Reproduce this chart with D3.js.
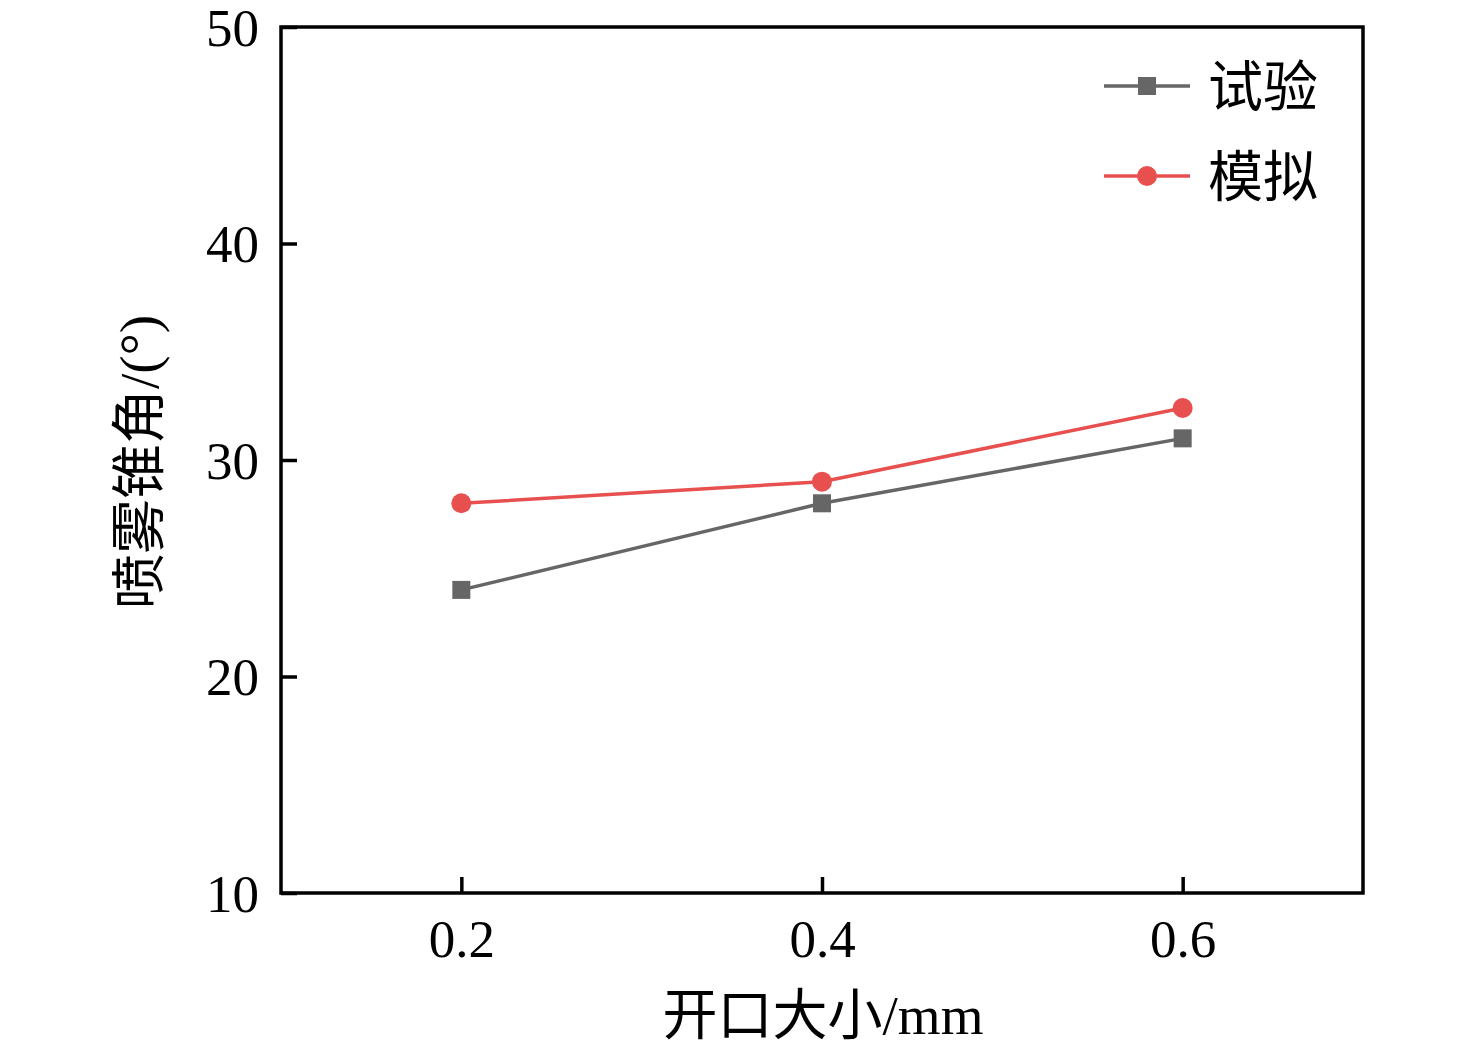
<!DOCTYPE html>
<html>
<head>
<meta charset="utf-8">
<script src="https://cdn.jsdelivr.net/npm/d3@7"></script>
<style>
  body { margin: 0; background: #fff; }
  text { font-family: "Liberation Serif", "Noto Sans CJK SC", serif; fill: #000; }
</style>
</head>
<body>
<div class="chart"></div>
<script>
const openings = [0.2, 0.4, 0.6];
const testValues = [24, 28, 31];
const simValues = [28, 29, 32.4];
const yTicks = [10, 20, 30, 40, 50];
const seriesNames = ["试验", "模拟"];
const seriesColors = ["#666666", "#e85050"];

const width = 1476;
const height = 1051;
const margin = { top: 27, right: 113, bottom: 158, left: 281 };
const graphWidth = width - margin.left - margin.right;
const graphHeight = height - margin.top - margin.bottom;

const svg = d3.select(".chart")
    .append("svg")
    .attr("width", width)
    .attr("height", height);
const graph = svg.append("g")
    .attr("transform", `translate(${margin.left}, ${margin.top})`);

const x = d3.scaleLinear().domain([0.1, 0.7]).range([0, graphWidth]);
const y = d3.scaleLinear().domain([10, 50]).range([graphHeight, 0]);

// axes with inward ticks
const xAxis = d3.axisBottom(x).tickValues(openings).tickSizeInner(-16).tickSizeOuter(0)
    .tickPadding(26).tickFormat(d3.format(".1f"));
const yAxis = d3.axisLeft(y).tickValues(yTicks).tickSizeInner(-16).tickSizeOuter(0)
    .tickPadding(22);

const gX = graph.append("g").attr("transform", `translate(0, ${graphHeight})`).call(xAxis);
const gY = graph.append("g").call(yAxis);
[gX, gY].forEach(g => {
    g.select(".domain").remove();
    g.selectAll(".tick line").attr("stroke", "#000").attr("stroke-width", 3.5);
    g.selectAll("text").style("font-size", "53px").attr("font-family", null);
});
gX.selectAll("text").attr("dy", "0.71em");
gY.selectAll("text").attr("dy", "0.34em");

// frame
graph.append("rect")
    .attr("width", graphWidth).attr("height", graphHeight)
    .attr("fill", "none").attr("stroke", "#000").attr("stroke-width", 3.5);

const series = [testValues, simValues];
const line = d3.line().x((d, i) => x(openings[i])).y(d => y(d));

series.forEach((vals, s) => {
    graph.append("path")
        .datum(vals)
        .attr("fill", "none")
        .attr("stroke", seriesColors[s])
        .attr("stroke-width", 3.5)
        .attr("d", line);
});

// markers
graph.selectAll(".sq").data(testValues).enter().append("rect")
    .attr("x", (d, i) => x(openings[i]) - 9)
    .attr("y", d => y(d) - 9)
    .attr("width", 18).attr("height", 18)
    .attr("fill", seriesColors[0]);
graph.selectAll(".dot").data(simValues).enter().append("circle")
    .attr("cx", (d, i) => x(openings[i]))
    .attr("cy", d => y(d))
    .attr("r", 10)
    .attr("fill", seriesColors[1]);

// legend
const legend = svg.append("g");
seriesNames.forEach((name, i) => {
    const ly = 86 + i * 90;
    legend.append("line")
        .attr("x1", 1104).attr("x2", 1190).attr("y1", ly).attr("y2", ly)
        .attr("stroke", seriesColors[i]).attr("stroke-width", 3.5);
    if (i === 0) {
        legend.append("rect").attr("x", 1138).attr("y", ly - 9).attr("width", 18).attr("height", 18)
            .attr("fill", seriesColors[i]);
    } else {
        legend.append("circle").attr("cx", 1147).attr("cy", ly).attr("r", 10)
            .attr("fill", seriesColors[i]);
    }
    legend.append("text")
        .attr("x", 1208).attr("y", ly).attr("dy", "0.36em")
        .style("font-size", "55px")
        .text(name);
});

// axis titles
svg.append("text")
    .attr("x", 823)
    .attr("y", 1034)
    .attr("text-anchor", "middle")
    .style("font-size", "55px")
    .text("开口大小/mm");

svg.append("text")
    .attr("transform", `translate(158, 462) rotate(-90)`)
    .attr("text-anchor", "middle")
    .style("font-size", "55px")
    .text("喷雾锥角/(°)");
</script>
</body>
</html>
